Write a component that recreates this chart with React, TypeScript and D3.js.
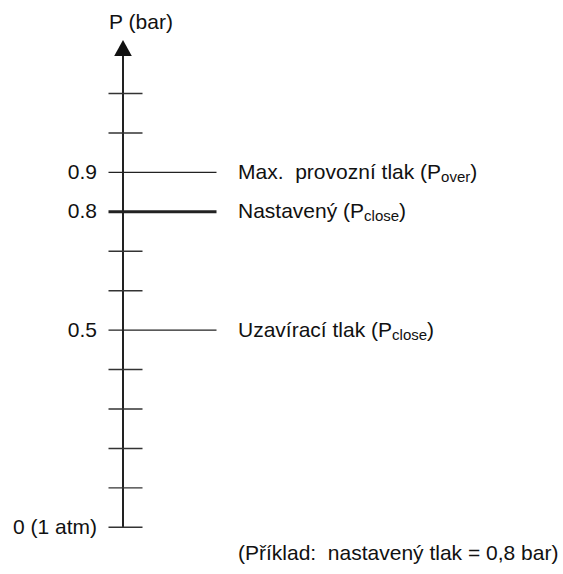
import { useEffect, useRef } from 'react';
import * as d3 from 'd3';

// tick values along the pressure axis (bar)
const tickValues = [0, 0.1, 0.2, 0.3, 0.4, 0.5, 0.6, 0.7, 0.8, 0.9, 1.0, 1.1];
// labelled levels
const levelValues = [0.9, 0.8, 0.5];
const levelLabels = ['Max.  provozní tlak (P', 'Nastavený (P', 'Uzavírací tlak (P'];
const levelSubs = ['over', 'close', 'close'];
const levelWidths = [1.3, 3, 1.3];
const axisLabels: [number, string][] = [
  [0.9, '0.9'],
  [0.8, '0.8'],
  [0.5, '0.5'],
  [0, '0 (1 atm)'],
];

function App() {
  const ref = useRef<SVGSVGElement>(null);
  const svgWidth = 563;
  const svgHeight = 574;

  useEffect(() => {
    const svg = d3.select(ref.current);
    svg.selectAll('*').remove();

    const axisX = 123;
    const y = d3.scaleLinear().domain([0, 1.1]).range([527.3, 93.5]);
    const font = 'Liberation Sans, Arial, sans-serif';

    // axis line
    svg
      .append('line')
      .attr('x1', axisX)
      .attr('x2', axisX)
      .attr('y1', y(0))
      .attr('y2', 52)
      .attr('stroke', '#222')
      .attr('stroke-width', 2);

    // arrow head
    svg
      .append('path')
      .attr('d', `M${axisX},40 L${axisX - 8.8},56 L${axisX + 8.8},56 Z`)
      .attr('fill', '#111');

    // short ticks
    svg
      .append('g')
      .selectAll('line')
      .data(tickValues.filter((v) => !levelValues.includes(v)))
      .join('line')
      .attr('x1', 108.5)
      .attr('x2', 142.5)
      .attr('y1', (d) => y(d))
      .attr('y2', (d) => y(d))
      .attr('stroke', '#333')
      .attr('stroke-width', 1.4);

    // level lines
    svg
      .append('g')
      .selectAll('line')
      .data(levelValues)
      .join('line')
      .attr('x1', 108.5)
      .attr('x2', 216.5)
      .attr('y1', (d) => y(d))
      .attr('y2', (d) => y(d))
      .attr('stroke', '#222')
      .attr('stroke-width', (_, i) => levelWidths[i]);

    // level labels
    levelValues.forEach((v, i) => {
      const t = svg
        .append('text')
        .attr('x', 238)
        .attr('y', y(v) + 6.5)
        .attr('font-family', font)
        .attr('font-size', 21)
        .attr('fill', '#111')
        .style('white-space', 'pre')
        .text(levelLabels[i]);
      t.append('tspan').attr('font-size', 15).attr('dy', 3).text(levelSubs[i]);
      t.append('tspan').attr('dy', -3).text(')');
    });

    // axis value labels
    svg
      .append('g')
      .selectAll('text')
      .data(axisLabels)
      .join('text')
      .attr('x', 97)
      .attr('y', (d) => y(d[0]) + 6.5)
      .attr('text-anchor', 'end')
      .attr('font-family', font)
      .attr('font-size', 21)
      .attr('fill', '#111')
      .text((d) => d[1]);

    // axis title
    svg
      .append('text')
      .attr('x', 141)
      .attr('y', 29)
      .attr('text-anchor', 'middle')
      .attr('font-family', font)
      .attr('font-size', 21)
      .attr('fill', '#111')
      .text('P (bar)');

    // note
    svg
      .append('text')
      .attr('x', 238)
      .attr('y', 560)
      .attr('font-family', font)
      .attr('font-size', 21)
      .attr('fill', '#111')
      .style('white-space', 'pre')
      .text('(Příklad:  nastavený tlak = 0,8 bar)');
  }, []);

  return (
    <svg
      ref={ref}
      width={svgWidth}
      height={svgHeight}
      style={{ position: 'absolute', left: 0, top: 0, background: '#fff' }}
    ></svg>
  );
}

export default App;
